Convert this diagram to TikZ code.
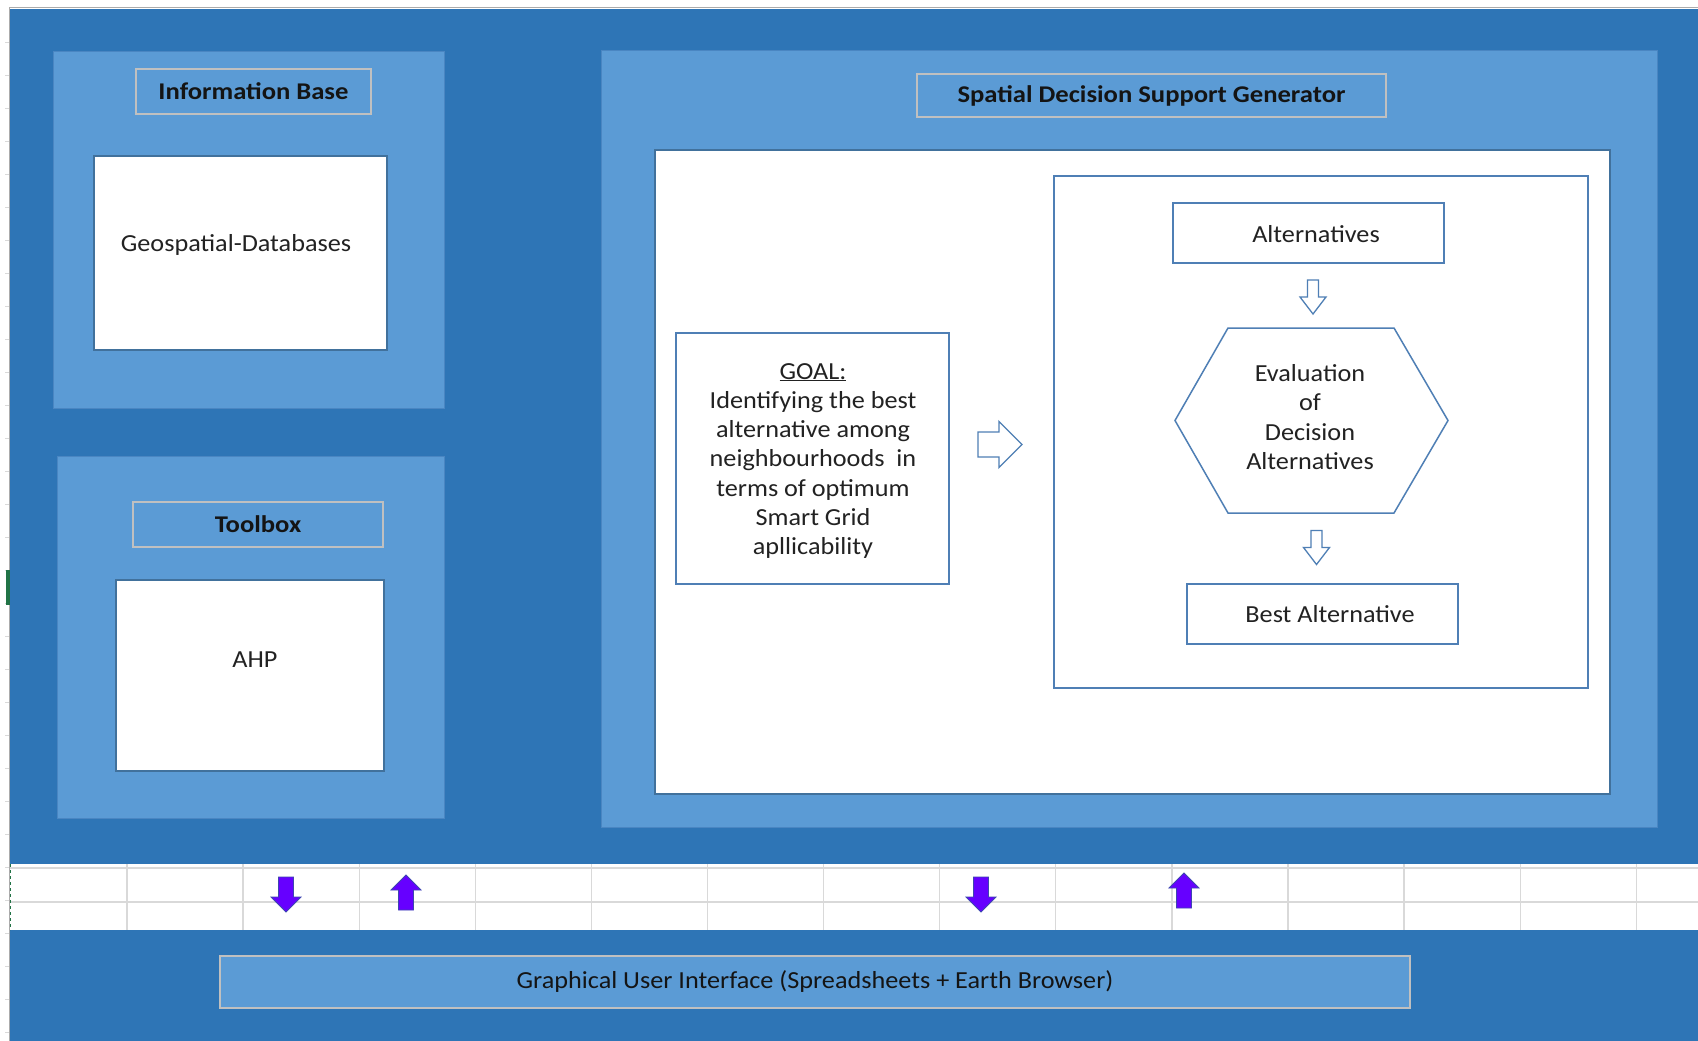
\documentclass[tikz,border=0pt]{standalone}
\usepackage{fontspec}
\setmainfont[FakeStretch=1.07]{Carlito}
\newfontfamily\headfont[FakeStretch=1.11]{Carlito}
\usetikzlibrary{calc,fit}

\definecolor{deepblue}{HTML}{2E75B6}
\definecolor{paleblue}{HTML}{5B9BD5}
\definecolor{paneledge}{HTML}{4A86C2}
\definecolor{edgeblue}{HTML}{41719C}
\definecolor{shapeblue}{HTML}{4F7FB5}
\definecolor{gridgray}{HTML}{D9D9D9}
\definecolor{framegray}{HTML}{ABABAB}
\definecolor{titlegray}{HTML}{C0C0C0}
\definecolor{arrowviolet}{HTML}{6600FF}
\definecolor{violetedge}{HTML}{3D46B0}
\definecolor{inkblack}{HTML}{141414}
\definecolor{bodyink}{HTML}{222222}
\definecolor{selgreen}{HTML}{217346}

\begin{document}
\begin{tikzpicture}[x=1pt,y=-1pt,
  panel/.style={fill=paleblue, draw=paneledge, line width=1pt, inner sep=0pt},
  titlebox/.style={fill=paleblue, draw=titlegray, line width=1.5pt, inner sep=0pt},
  whitebox/.style={fill=white, draw=edgeblue, line width=1.5pt, inner sep=0pt},
  flowbox/.style={fill=white, draw=shapeblue, line width=1.5pt, inner sep=0pt},
  titletext/.style={font=\headfont\fontsize{24}{28}\selectfont\bfseries, text=inkblack, inner sep=0pt},
  bodytext/.style={font=\fontsize{24.5}{29.3}\selectfont, text=bodyink, inner sep=0pt, align=center},
  gridline/.style={draw=gridgray, line width=1.3pt},
  hollowarrow/.style={fill=white, draw=shapeblue, line width=1.3pt, line join=miter},
  violetarrow/.style={fill=arrowviolet, draw=violetedge, line width=0.8pt},
  pics/hollowdown/.style={code={
    \path[hollowarrow] (-5.5,-17) -- (5.5,-17) -- (5.5,0) -- (13,0) -- (0,17)
      -- (-13,0) -- (-5.5,0) -- cycle;}},
  pics/hollowright/.style={code={
    \path[hollowarrow] (-22,-12.5) -- (-1,-12.5) -- (-1,-23) -- (22,0) -- (-1,23)
      -- (-1,12.5) -- (-22,12.5) -- cycle;}},
  pics/violetdown/.style={code={
    \path[violetarrow] (-7.5,-17.5) -- (7.5,-17.5) -- (7.5,2.5) -- (15,2.5) -- (0,17.5)
      -- (-15,2.5) -- (-7.5,2.5) -- cycle;}},
  pics/violetup/.style={code={
    \path[violetarrow] (-7.5,17.5) -- (7.5,17.5) -- (7.5,-2.5) -- (15,-2.5) -- (0,-17.5)
      -- (-15,-2.5) -- (-7.5,-2.5) -- cycle;}}
]
\useasboundingbox (0,0) rectangle (1698,1041);
\fill[white] (0,0) rectangle (1698,1041);

% sheet frame behind the drawing
\draw[framegray, line width=1pt] (9,8) -- (1698,8);
\draw[framegray, line width=1pt] (9,8) -- (9,1041);
\foreach \k in {0,...,30} \draw[gridgray, line width=0.8pt] (5,{42+33*\k}) -- (9,{42+33*\k});
\fill[deepblue] (10,9) rectangle (1698,1041);

% spreadsheet row visible across the drawing
\fill[white] (10,864) rectangle (1698,930);
\draw[gridline] (10,868) -- (1698,868);
\draw[gridline] (10,902) -- (1698,902);
\foreach \i in {0,...,13} \draw[gridline] ({127+116.1*\i},864) -- ({127+116.1*\i},930);
\draw[selgreen, dashed, line width=1pt] (10.5,864) -- (10.5,930);
\fill[selgreen] (6,570) rectangle (10,605);

% Information Base
\node[panel, fit={(53,52) (444,408)}] (ib) {};
\node[titlebox, fit={(136,69) (371,114)}] (ibtitle) {};
\node[titletext] at (ibtitle.center) {Information Base};
\node[whitebox, fit={(94,156) (387,350)}] (geo) {};
\node[bodytext] (geotext) at (236,245) {Geospatial-Databases};

% Toolbox
\node[panel, fit={(57,456) (444,818)}] (tb) {};
\node[titlebox, fit={(133,502) (383,547)}] (tbtitle) {};
\node[titletext] at (tbtitle.center) {Toolbox};
\node[whitebox, fit={(116,580) (384,771)}] (ahp) {};
\node[bodytext] (ahptext) at (255,660) {AHP};

% Spatial Decision Support Generator
\node[panel, fit={(601,51) (1657,827)}] (sdsg) {};
\node[titlebox, fit={(917,74) (1386,117)}] (sdsgtitle) {};
\node[titletext] at (sdsgtitle.center) {Spatial Decision Support Generator};
\node[whitebox, fit={(655,150) (1610,794)}] (canvas) {};

% goal statement
\node[flowbox, fit={(676,333) (949,584)}] (goal) {};
\node[bodytext] (goaltext) at (813,461) {\underline{GOAL:}\\Identifying the best\\alternative among\\neighbourhoods\ \ in\\terms of optimum\\Smart Grid\\apllicability};

% evaluation flow
\node[flowbox, fit={(1054,176) (1588,688)}] (flow) {};
\node[flowbox, fit={(1173,203) (1444,263)}] (alt) {};
\node[bodytext] (alttext) at (1316,234) {Alternatives};
\coordinate (h1) at (1175,420.5);
\coordinate (h2) at (1228,328);
\coordinate (h3) at (1394,328);
\coordinate (h4) at (1448,420.5);
\coordinate (h5) at (1394,513);
\coordinate (h6) at (1228,513);
\draw[fill=white, draw=shapeblue, line width=1.5pt, line join=miter]
  (h1) -- (h2) -- (h3) -- (h4) -- (h5) -- (h6) -- cycle;
\node[bodytext] (hex) at (1310,417) {Evaluation\\of\\Decision\\Alternatives};
\node[flowbox, fit={(1187,584) (1458,644)}] (best) {};
\node[bodytext] (besttext) at (1330,614) {Best Alternative};

\pic at (1000,444.5) {hollowright};
\pic at (1313,297) {hollowdown};
\pic at (1316.5,547.5) {hollowdown};

% exchange with the user interface
\pic at (286,894.5) {violetdown};
\pic at (406,892.5) {violetup};
\pic at (981,894.5) {violetdown};
\pic at (1184,890.5) {violetup};

% Graphical User Interface
\node[titlebox, fit={(220,956) (1410,1008)}] (gui) {};
\node[bodytext, text=inkblack] at (gui.center) {Graphical User Interface (Spreadsheets + Earth Browser)};
\end{tikzpicture}
\end{document}
